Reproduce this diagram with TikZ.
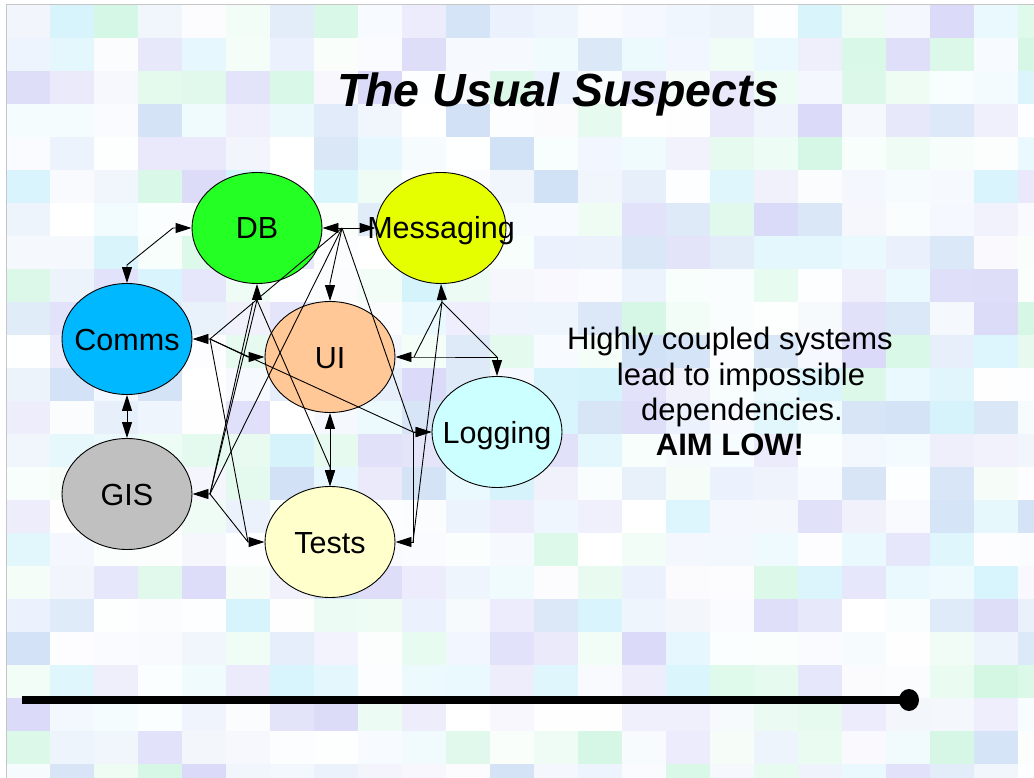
\documentclass[tikz,border=0pt]{standalone}
\usepackage{fontspec}
\setmainfont{Liberation Sans}
\usetikzlibrary{shapes.geometric,arrows.meta}

% node fills
\definecolor{cdb}{RGB}{36,255,36}
\definecolor{cms}{RGB}{230,255,0}
\definecolor{ccm}{RGB}{0,184,255}
\definecolor{cui}{RGB}{255,200,150}
\definecolor{cgis}{RGB}{192,192,192}
\definecolor{cts}{RGB}{255,255,204}
\definecolor{clg}{RGB}{204,255,255}
% pale mosaic tones of the slide background
\definecolor{tga}{RGB}{196,244,218}
\definecolor{tgb}{RGB}{196,238,250}
\definecolor{tgc}{RGB}{204,204,246}
\definecolor{tgd}{RGB}{192,214,242}
\definecolor{tge}{RGB}{226,236,252}

\newcommand\zw[1]{\makebox[0pt]{#1}}

\begin{document}
\begin{tikzpicture}[x=1pt,y=-1pt,
  >={Triangle[length=16pt,width=10pt]},
  bubble/.style={ellipse,draw=black,line width=0.9pt,minimum width=130pt,
    minimum height=111pt,inner sep=0pt,text height=22pt,text depth=0pt,
    font=\fontsize{30.5}{36}\selectfont},
  link/.style={line width=0.9pt,draw=black},
  body/.style={inner sep=0pt,text height=22pt,text depth=0pt,
    font=\fontsize{31}{37}\selectfont}]

\useasboundingbox (0,0) rectangle (1034,778);
\fill[white] (0,0) rectangle (1034,778);

% background mosaic
\pgfmathsetseed{2718}
\foreach \i in {0,...,23}{
  \foreach \j in {0,...,23}{
    \pgfmathrandominteger{\c}{0}{4}
    \pgfmathrandominteger{\k}{0}{72}
    \pgfmathsetmacro\cn{{"tga","tgb","tgc","tgd","tge"}[\c]}
    \fill[\cn!\k!white] ({6+44*\i},{5+33*\j}) rectangle ++(44,33);
  }
}
\draw[gray!45,line width=1pt] (6,778) -- (6,5) -- (1034,5);

% title
\node[inner sep=0pt,text height=33pt,text depth=0pt,
  font=\fontsize{46.5}{56}\selectfont\bfseries\itshape] (title) at (558,90)
  {The Usual Suspects};

% components
\node[bubble,fill=cdb]  (db)  at (257,228) {\zw{DB}};
\node[bubble,fill=cms]  (ms)  at (441,228) {\zw{Messaging}};
\node[bubble,fill=ccm]  (cm)  at (127,339) {\zw{Comms}};
\node[bubble,fill=cgis] (gis) at (127,494) {\zw{GIS}};
\node[bubble,fill=cui]  (ui)  at (330,357) {\zw{UI}};
\node[bubble,fill=cts]  (ts)  at (330,542) {\zw{Tests}};
\node[bubble,fill=clg]  (lg)  at (497,432) {\zw{Logging}};

% connector bend points
\coordinate (dbL) at (173,228);
\coordinate (dbR) at (342,228);
\coordinate (dbB) at (257,300);
\coordinate (dbB2) at (253,302);
\coordinate (cmT) at (127,265);
\coordinate (cmR) at (210,339);
\coordinate (gsR) at (210,494);
\coordinate (uiT) at (330,283);
\coordinate (uiL) at (248,357);
\coordinate (uiR) at (414,357);
\coordinate (tsT) at (330,467);
\coordinate (tsL) at (248,542);
\coordinate (tsR) at (413,542);
\coordinate (msB) at (442,302);
\coordinate (lgT) at (497,357);
\coordinate (lgL) at (413,432);

% dependencies
\draw[link,<->] (cm.north) -- (cmT) -- (dbL) -- (db.west);
\draw[link,<->] (cm.south) -- (gis.north);
\draw[link,<->] (db.east) -- (ms.west);
\draw[link,->] (dbR) -- (uiT) -- (ui.north);
\draw[link,->] (dbR) -- (cmR) -- (cm.east);
\draw[link,->] (dbR) -- (gsR) -- (gis.east);
\draw[link,->] (dbR) -- (lgL) -- (lg.west);
\draw[link,->] (cmR) -- (uiL) -- (ui.west);
\draw[link] (cmR) -- (lgL);
\draw[link,->] (cmR) -- (tsL) -- (ts.west);
\draw[link,->] (gsR) -- (dbB) -- (db.south);
\draw[link] (gsR) -- (dbB2);
\draw[link] (gsR) -- (tsL);
\draw[link,->] (dbB) -- (tsT) -- (ts.north);
\draw[link,<->] (ui.south) -- (ts.north);
\draw[link,<->] (ui.east) -- (uiR) -- (lgT) -- (lg.north);
\draw[link,->] (uiR) -- (msB) -- (ms.south);
\draw[link] (msB) -- (lgT);
\draw[link] (msB) -- (tsR);
\draw[link,<->] (lg.west) -- (lgL) -- (tsR) -- (ts.east);

% remark
\node[body] (r1) at (730,338) {Highly coupled systems};
\node[body] (r2) at (741,374) {lead to impossible};
\node[body] (r3) at (742,409) {dependencies.};
\node[body,font=\fontsize{31}{37}\selectfont\bfseries] (r4) at (730,444) {AIM LOW!};

% closing bar
\coordinate (barL) at (22,700);
\coordinate (barR) at (909,700);
\draw[line width=8pt] (barL) -- (barR);
\fill (barR) ellipse [x radius=10, y radius=11];
\end{tikzpicture}
\end{document}
